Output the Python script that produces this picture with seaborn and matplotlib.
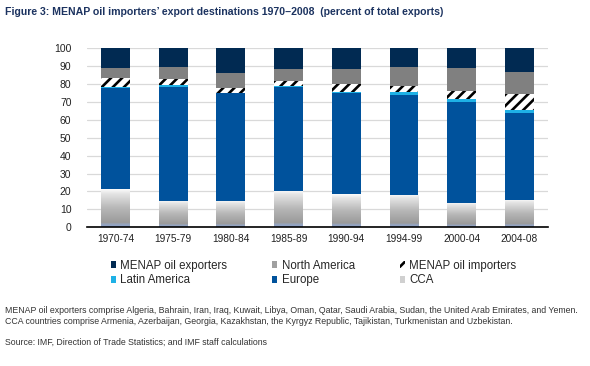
import numpy as np
import pandas as pd
import matplotlib
matplotlib.use("Agg")
import matplotlib.pyplot as plt
from matplotlib.colors import LinearSegmentedColormap
from matplotlib.patches import Patch
import seaborn as sns

periods = ["1970-74", "1975-79", "1980-84", "1985-89", "1990-94", "1994-99", "2000-04", "2004-08"]
cca = [21.2, 14.7, 14.7, 20.3, 18.4, 17.9, 13.8, 15.5]
europe = [56.5, 63.9, 60.2, 57.9, 56.5, 56.2, 56.4, 48.4]
latin_america = [0.9, 0.9, 0.3, 0.7, 0.5, 1.3, 1.3, 1.8]
menap_importers = [5.0, 3.4, 2.8, 2.9, 4.7, 3.7, 4.9, 8.8]
north_america = [5.4, 6.5, 8.0, 6.9, 8.2, 10.7, 12.6, 12.1]
menap_exporters = [11.0, 10.6, 14.0, 11.3, 11.7, 10.2, 11.0, 13.4]

sns.set_style("white")
plt.rcParams["font.family"] = ["Liberation Sans", "DejaVu Sans"]
plt.rcParams["hatch.linewidth"] = 1.9

df = pd.DataFrame({"period": periods, "CCA": cca, "Europe": europe,
                   "Latin America": latin_america, "MENAP oil importers": menap_importers,
                   "North America": north_america, "MENAP oil exporters": menap_exporters})
order = ["CCA", "Europe", "Latin America", "MENAP oil importers", "North America", "MENAP oil exporters"]
cum = df[order].cumsum(axis=1)

colors = {"MENAP oil exporters": "#012a52", "North America": "#808080",
          "MENAP oil importers": "white", "Latin America": "#1eb1e6",
          "Europe": "#00529c", "CCA": "#c8c8c8"}

fig = plt.figure(figsize=(5.9, 3.66), dpi=100)
ax = fig.add_axes([0.147, 0.379, 0.782, 0.489])
ax.set_axisbelow(True)
ax.yaxis.grid(True, color="#d9d9d9", lw=0.9)

# overlay cumulative totals, top layer first
for name in order[::-1]:
    kw = dict(color=colors[name], saturation=1, width=0.5, linewidth=0)
    if name == "MENAP oil importers":
        kw.update(hatch="///", edgecolor="black")
    sns.barplot(x=df["period"], y=cum[name], ax=ax, **kw)

# gradient fill for CCA bars (last container)
cca_cmap = LinearSegmentedColormap.from_list(
    "cca", [(0.0, "#8ea4cf"), (0.08, "#97a3b8"), (0.11, "#9a9a9a"), (0.5, "#b7b7b7"), (0.88, "#e4e4e4"), (1.0, "#fbfbfb")])
grad = np.linspace(1, 0, 100).reshape(-1, 1)
for p in ax.containers[-1].patches:
    x0 = p.get_x()
    im = ax.imshow(grad, extent=[x0, x0 + p.get_width(), 0, p.get_height()],
                   aspect="auto", cmap=cca_cmap, vmin=0, vmax=1, zorder=p.get_zorder() + 0.1)
    im.set_clip_path(p)

ax.set_xlim(-0.5, 7.5)
ax.set_ylim(0, 100)
ax.set_yticks(range(0, 101, 10))
ax.set_xlabel("")
ax.set_ylabel("")
for s in ["left", "right", "top"]:
    ax.spines[s].set_visible(False)
ax.spines["bottom"].set_color("black")
ax.spines["bottom"].set_linewidth(1.2)
ax.spines["bottom"].set_zorder(5)
ax.tick_params(axis="y", length=0, pad=11, labelsize=7.5, labelcolor="#222222")
ax.tick_params(axis="x", which="major", length=0, pad=5, labelsize=7.3, labelcolor="#222222")
ax.set_xticks(np.arange(-0.5, 8, 1), minor=True)
ax.tick_params(axis="x", which="minor", length=3, width=1, direction="out", color="black")

leg_names = ["MENAP oil exporters", "Latin America", "North America", "Europe", "MENAP oil importers", "CCA"]
handles = []
for n in leg_names:
    if n == "MENAP oil importers":
        handles.append(Patch(facecolor="white", edgecolor="black", hatch="///", lw=0))
    elif n == "CCA":
        handles.append(Patch(facecolor="#d0d0d0", lw=0))
    elif n == "North America":
        handles.append(Patch(facecolor="#a0a0a0", lw=0))
    else:
        handles.append(Patch(facecolor=colors[n], lw=0))
fig.legend(handles, leg_names, ncol=3, loc="upper left", bbox_to_anchor=(0.188, 0.29),
           frameon=False, fontsize=8.3, handlelength=0.42, handleheight=0.5, handletextpad=0.4,
           columnspacing=3.9, labelspacing=0.22, borderpad=0, borderaxespad=0)

narrow = ["Liberation Sans Narrow", "Liberation Sans", "DejaVu Sans"]
fig.text(0.009, 0.967, "Figure 3: MENAP oil importers\u2019 export destinations 1970\u20132008  (percent of total exports)",
         family=narrow, fontsize=7.6, fontweight="bold", color="#1c3360", va="center", ha="left")
fig.text(0.009, 0.153, "MENAP oil exporters comprise Algeria, Bahrain, Iran, Iraq, Kuwait, Libya, Oman, Qatar, Saudi Arabia, Sudan, the United Arab Emirates, and Yemen.",
         family=narrow, fontsize=6.3, color="#333333", va="center", ha="left")
fig.text(0.009, 0.122, "CCA countries comprise Armenia, Azerbaijan, Georgia, Kazakhstan, the Kyrgyz Republic, Tajikistan, Turkmenistan and Uzbekistan.",
         family=narrow, fontsize=6.3, color="#333333", va="center", ha="left")
fig.text(0.009, 0.066, "Source: IMF, Direction of Trade Statistics; and IMF staff calculations",
         family=narrow, fontsize=6.3, color="#333333", va="center", ha="left")

fig.savefig("out.png", dpi=100)
